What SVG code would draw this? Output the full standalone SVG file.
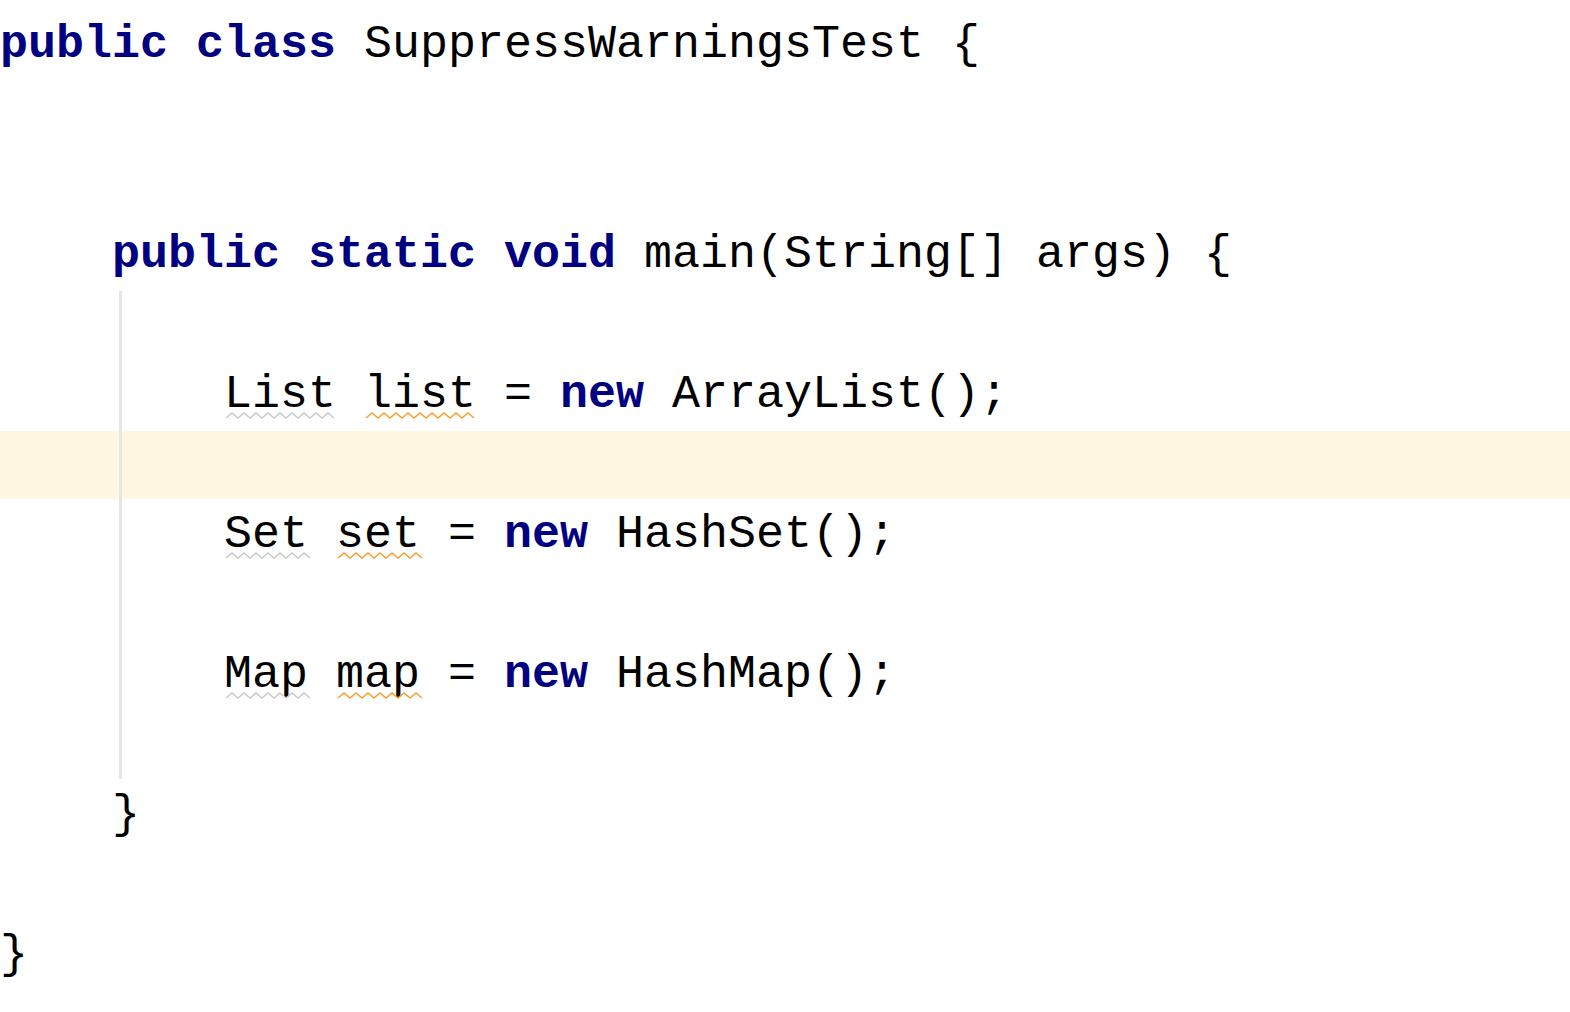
<svg xmlns="http://www.w3.org/2000/svg" width="1570" height="1012" viewBox="0 0 1570 1012">
<style>
.code{font-family:"Liberation Mono","Courier New",monospace;font-size:46.67px;fill:#000000}
.kw{font-weight:bold;fill:#000080}
.wg{fill:none;stroke:#c9c9c9;stroke-width:1.6}
.wo{fill:none;stroke:#f5a033;stroke-width:1.6}
</style>
<rect x="0" y="0" width="1570" height="1012" fill="#ffffff"/>
<rect id="current-line" x="0" y="431" width="1570" height="68" fill="#fef8e3"/>
<line id="indent-guide" x1="120.5" y1="291" x2="120.5" y2="779" stroke="#e6e6e6" stroke-width="3"/>
<g id="code" class="code">
<text y="57"><tspan x="0" class="kw">public</tspan><tspan x="196" class="kw">class</tspan><tspan x="364">SuppressWarningsTest {</tspan></text>
<text y="267"><tspan x="112" class="kw">public</tspan><tspan x="308" class="kw">static</tspan><tspan x="504" class="kw">void</tspan><tspan x="644">main(String[] args) {</tspan></text>
<text y="407"><tspan x="224">List</tspan><tspan x="364">list</tspan><tspan x="504">=</tspan><tspan x="560" class="kw">new</tspan><tspan x="672">ArrayList();</tspan></text>
<text y="547"><tspan x="224">Set</tspan><tspan x="336">set</tspan><tspan x="448">=</tspan><tspan x="504" class="kw">new</tspan><tspan x="616">HashSet();</tspan></text>
<text y="687"><tspan x="224">Map</tspan><tspan x="336">map</tspan><tspan x="448">=</tspan><tspan x="504" class="kw">new</tspan><tspan x="616">HashMap();</tspan></text>
<text y="827"><tspan x="112">}</tspan></text>
<text y="967"><tspan x="0">}</tspan></text>
</g>
<g id="underlines">
<path class="wg" d="M226 418 l6 -5 l6 5 l6 -5 l6 5 l6 -5 l6 5 l6 -5 l6 5 l6 -5 l6 5 l6 -5 l6 5 l6 -5 l6 5 l6 -5 l6 5 l6 -5 l6 5"/>
<path class="wo" d="M366 418 l6 -5 l6 5 l6 -5 l6 5 l6 -5 l6 5 l6 -5 l6 5 l6 -5 l6 5 l6 -5 l6 5 l6 -5 l6 5 l6 -5 l6 5 l6 -5 l6 5"/>
<path class="wg" d="M226 558 l6 -5 l6 5 l6 -5 l6 5 l6 -5 l6 5 l6 -5 l6 5 l6 -5 l6 5 l6 -5 l6 5 l6 -5 l6 5"/>
<path class="wo" d="M338 558 l6 -5 l6 5 l6 -5 l6 5 l6 -5 l6 5 l6 -5 l6 5 l6 -5 l6 5 l6 -5 l6 5 l6 -5 l6 5"/>
<path class="wg" d="M226 698 l6 -5 l6 5 l6 -5 l6 5 l6 -5 l6 5 l6 -5 l6 5 l6 -5 l6 5 l6 -5 l6 5 l6 -5 l6 5"/>
<path class="wo" d="M338 698 l6 -5 l6 5 l6 -5 l6 5 l6 -5 l6 5 l6 -5 l6 5 l6 -5 l6 5 l6 -5 l6 5 l6 -5 l6 5"/>
</g>
</svg>
